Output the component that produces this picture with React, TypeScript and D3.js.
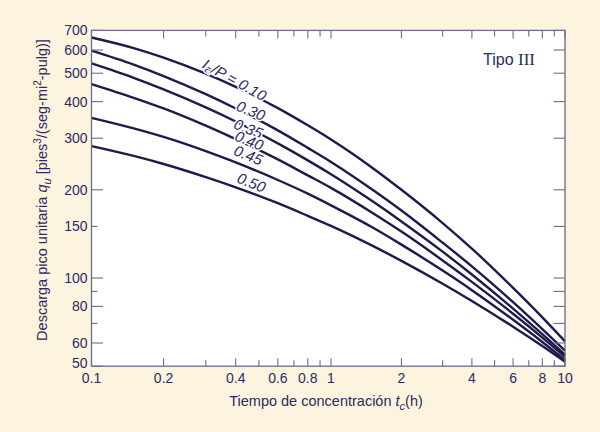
import React from "react";
import * as d3 from "d3";

// Tiempo de concentración (h)
const tcValues = [0.1, 0.15, 0.2, 0.3, 0.4, 0.6, 0.8, 1, 1.5, 2, 3, 4, 6, 8, 10];
// Descarga pico unitaria for each Ia/P
const q010 = [662, 609, 565, 498, 449, 380, 332, 297, 238, 200, 154, 126, 92.5, 73.4, 60.8];
const q030 = [597, 535, 489, 424, 379, 319, 278, 249, 200.5, 170, 132, 109.6, 82.7, 66.9, 56.5];
const q035 = [540, 482, 440, 382, 342, 288, 252, 226, 183, 156, 123, 102.8, 78.6, 64.3, 54.7];
const q040 = [459, 412, 379, 331, 298, 254, 224, 203, 167, 144, 114.8, 97.0, 75.5, 62.6, 53.8];
const q045 = [352, 324, 303, 271, 248, 216, 194, 177, 149, 130, 106, 90.9, 72.0, 60.5, 52.5];
const q050 = [282, 261, 245, 221, 204, 180, 163, 150.6, 129, 114.4, 95.6, 83.5, 68.2, 58.6, 51.8];

const seriesNames = ["0.10", "0.30", "0.35", "0.40", "0.45", "0.50"];
const seriesValues = [q010, q030, q035, q040, q045, q050];

// label anchor (t, q) for each curve label
const labelT = [0.397, 0.463, 0.452, 0.456, 0.452, 0.466];
const labelQ = [477, 373, 324, 295, 263, 212];

const xTickLabels = [0.1, 0.2, 0.4, 0.6, 0.8, 1, 2, 4, 6, 8, 10];
const xMinorTicks = [0.3, 0.5, 0.7, 0.9, 3, 5, 7, 9];
const yTickLabels = [50, 60, 80, 100, 150, 200, 300, 400, 500, 600, 700];
const yMinorTicks = [70, 90];

const W = 600;
const H = 432;
const left = 91.5;
const right = 565;
const top = 30.4;
const bottom = 366.2;

const BG = "#fdf4df";
const INK = "#1c1c4c";
const TEXT = "#2b2b5e";
const FRAME = "#6c6c8c";
const FONT = "'Liberation Sans', Arial, Helvetica, sans-serif";

export default function App() {
  const x = d3.scaleLog().domain([0.1, 1, 10]).range([left, 331, right]);
  const y = d3.scaleLog().domain([50, 700]).range([bottom, top]);

  const line = d3
    .line<[number, number]>()
    .x((d) => x(d[0]))
    .y((d) => y(d[1]))
    .curve(d3.curveMonotoneX);

  const fmt = (v: number) => String(v);

  return (
    <svg
      width={W}
      height={H}
      style={{ position: "absolute", left: 0, top: 0, display: "block" }}
    >
      <rect x={0} y={0} width={W} height={H} fill={BG} />
      <rect x={left} y={top} width={right - left} height={bottom - top} fill="#ffffff" />

      {/* curves */}
      {seriesValues.map((vals, i) => (
        <path
          key={seriesNames[i]}
          d={line(tcValues.map((t, j) => [t, vals[j]] as [number, number])) || ""}
          fill="none"
          stroke={INK}
          strokeWidth={2.4}
        />
      ))}

      {/* x ticks bottom & top */}
      {xTickLabels.concat(xMinorTicks).map((t) => {
        const major = xTickLabels.includes(t);
        const len = major ? 8 : 6;
        return (
          <g key={"xt" + t}>
            <line x1={x(t)} x2={x(t)} y1={bottom} y2={bottom - len} stroke={FRAME} strokeWidth={1.1} />
            <line x1={x(t)} x2={x(t)} y1={top} y2={top + len} stroke={FRAME} strokeWidth={1.1} />
          </g>
        );
      })}
      {xTickLabels.map((t) => (
        <text
          key={"xl" + t}
          x={x(t)}
          y={bottom + 17}
          textAnchor="middle"
          fontFamily={FONT}
          fontSize={14}
          fill={TEXT}
        >
          {fmt(t)}
        </text>
      ))}

      {/* y ticks left & right */}
      {yTickLabels.concat(yMinorTicks).map((v) => {
        const major = yTickLabels.includes(v) && v !== 150;
        const len = major ? 11.5 : 6;
        return (
          <g key={"yt" + v}>
            <line x1={left} x2={left + len} y1={y(v)} y2={y(v)} stroke={FRAME} strokeWidth={1.1} />
            <line x1={right} x2={right - 11.5} y1={y(v)} y2={y(v)} stroke={FRAME} strokeWidth={1.1} />
          </g>
        );
      })}
      {yTickLabels.map((v) => (
        <text
          key={"yl" + v}
          x={left - 4}
          y={y(v) + (v === 50 ? 1.5 : 5)}
          textAnchor="end"
          fontFamily={FONT}
          fontSize={14}
          fill={TEXT}
        >
          {fmt(v)}
        </text>
      ))}

      {/* frame */}
      <rect
        x={left}
        y={top}
        width={right - left}
        height={bottom - top}
        fill="none"
        stroke={FRAME}
        strokeWidth={1.3}
      />

      {/* curve labels */}
      {seriesNames.map((name, i) => {
        const cx = x(labelT[i]);
        const cy = y(labelQ[i]);
        const ang = i === 0 ? 29 : 22;
        return (
          <text
            key={"lab" + name}
            x={cx}
            y={cy}
            transform={`rotate(${ang} ${cx} ${cy})`}
            textAnchor="middle"
            dominantBaseline="central"
            fontFamily={FONT}
            fontSize={15}
            fontStyle="italic"
            fill={TEXT}
            stroke="#ffffff"
            strokeWidth={3}
            paintOrder="stroke"
          >
            {i === 0 ? (
              <>
                <tspan>I</tspan>
                <tspan dy={4} fontSize={11}>a</tspan>
                <tspan dy={-4}>/P = {name}</tspan>
              </>
            ) : (
              name
            )}
          </text>
        );
      })}

      {/* Tipo III */}
      <text x={509} y={65} textAnchor="middle" fontFamily={FONT} fontSize={16} fill={TEXT}>
        Tipo{" "}
        <tspan fontFamily="'Liberation Serif', 'Times New Roman', serif" fontSize={17}>
          III
        </tspan>
      </text>

      {/* x axis title */}
      <text x={326} y={406} textAnchor="middle" fontFamily={FONT} fontSize={14.5} fill={TEXT}>
        Tiempo de concentración{" "}
        <tspan fontStyle="italic">t</tspan>
        <tspan dy={4} fontSize={11} fontStyle="italic">c</tspan>
        <tspan dy={-4}>(h)</tspan>
      </text>

      {/* y axis title */}
      <text
        x={0}
        y={0}
        transform={`translate(47, 190) rotate(-90)`}
        textAnchor="middle"
        fontFamily={FONT}
        fontSize={14.5}
        fill={TEXT}
      >
        Descarga pico unitaria{" "}
        <tspan fontStyle="italic">q</tspan>
        <tspan dy={4} fontSize={11} fontStyle="italic">u</tspan>
        <tspan dy={-4}> [pies</tspan>
        <tspan dy={-6} fontSize={10}>3</tspan>
        <tspan dy={6}>/(seg-mi</tspan>
        <tspan dy={-6} fontSize={10}>2</tspan>
        <tspan dy={6}>-pulg)]</tspan>
      </text>
    </svg>
  );
}
